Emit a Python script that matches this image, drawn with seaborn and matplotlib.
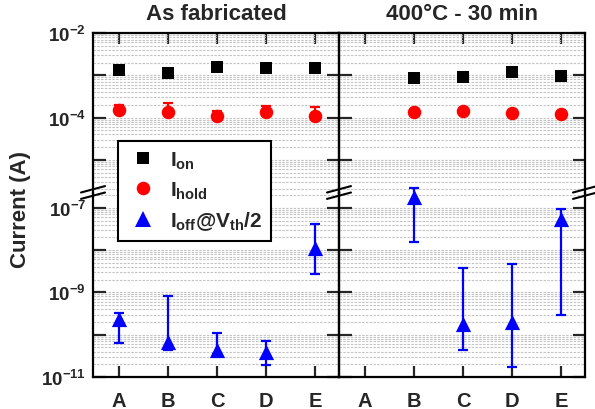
import numpy as np
import pandas as pd
import matplotlib
matplotlib.use('Agg')
import matplotlib.pyplot as plt
import seaborn as sns
from matplotlib.ticker import LogLocator, FixedLocator, FixedFormatter, NullFormatter
from matplotlib.lines import Line2D

nan = np.nan
categories = ['A', 'B', 'C', 'D', 'E']
panel_titles = ['As fabricated', '400°C - 30 min']
series_labels = [r'$I_{on}$', r'$I_{hold}$', r'$I_{off}@V_{th}/2$']

# As fabricated
fab_on = [1.34e-3, 1.15e-3, 1.55e-3, 1.50e-3, 1.48e-3]
fab_on_lo = [1.26e-3, 1.08e-3, 1.46e-3, 1.41e-3, 1.39e-3]
fab_on_hi = [1.42e-3, 1.22e-3, 1.64e-3, 1.58e-3, 1.56e-3]
fab_hold = [1.52e-4, 1.34e-4, 1.08e-4, 1.34e-4, 1.11e-4]
fab_hold_lo = [1.35e-4, 1.15e-4, 0.95e-4, 1.18e-4, 0.98e-4]
fab_hold_hi = [2.0e-4, 2.2e-4, 1.4e-4, 1.92e-4, 1.82e-4]
fab_off = [2.34e-10, 6.8e-11, 4.4e-11, 3.8e-11, 1.15e-8]
fab_off_lo = [6.5e-11, 4.3e-11, 3.5e-11, 1.95e-11, 2.77e-9]
fab_off_hi = [3.2e-10, 8.4e-10, 1.07e-10, 7.1e-11, 4.1e-8]

# 400 C - 30 min (A not measured)
ann_on = [nan, 8.67e-4, 9.3e-4, 1.18e-3, 9.5e-4]
ann_on_lo = [nan, 8.1e-4, 8.8e-4, 1.12e-3, 9.0e-4]
ann_on_hi = [nan, 1.02e-3, 1.0e-3, 1.28e-3, 1.06e-3]
ann_hold = [nan, 1.34e-4, 1.42e-4, 1.31e-4, 1.20e-4]
ann_hold_lo = [nan, 1.25e-4, 1.33e-4, 1.22e-4, 1.12e-4]
ann_hold_hi = [nan, 1.44e-4, 1.52e-4, 1.40e-4, 1.29e-4]
ann_off = [nan, 1.76e-7, 1.75e-10, 2.03e-10, 5.3e-8]
ann_off_lo = [nan, 1.58e-8, 4.3e-11, 1.75e-11, 3.0e-10]
ann_off_hi = [nan, 2.95e-7, 3.7e-9, 4.8e-9, 9.3e-8]

sns.set_style('white')
plt.rcParams['font.family'] = ['Liberation Sans', 'DejaVu Sans']
plt.rcParams['font.weight'] = 'bold'
plt.rcParams['mathtext.fontset'] = 'custom'
plt.rcParams['mathtext.rm'] = 'Liberation Sans:bold'
plt.rcParams['mathtext.it'] = 'Liberation Sans:bold'
plt.rcParams['mathtext.bf'] = 'Liberation Sans:bold'
plt.rcParams['mathtext.sf'] = 'Liberation Sans:bold'

W, H = 595, 410
fig = plt.figure(figsize=(W / 100, H / 100), dpi=100)

def fx(px):
    return px / W

def fy(py):
    return 1 - py / H

x_edges = [(93, 339), (339, 585)]
y_top, y_break, y_bot = 34, 193.5, 378
dec = 42.3
top_lim = (10 ** (-2 - (y_break - y_top) / dec), 1e-2)
bot_lim = (1e-11, 10 ** (-11 + (y_bot - y_break) / dec))
xlim = (-0.53, 4.49)
xpos = np.arange(len(categories))

data = [
    [(fab_on, fab_on_lo, fab_on_hi), (fab_hold, fab_hold_lo, fab_hold_hi), (fab_off, fab_off_lo, fab_off_hi)],
    [(ann_on, ann_on_lo, ann_on_hi), (ann_hold, ann_hold_lo, ann_hold_hi), (ann_off, ann_off_lo, ann_off_hi)],
]
styles = [('s', 'black', 81), ('o', 'red', 95), ('^', 'blue', 120)]

grid_kw = dict(color='#c4c4c4', linestyle=(0, (2.2, 1.2)), linewidth=0.8)
FS = 16

for p, (x0, x1) in enumerate(x_edges):
    ax_t = fig.add_axes([fx(x0), fy(y_break), fx(x1) - fx(x0), fy(y_top) - fy(y_break)])
    ax_b = fig.add_axes([fx(x0), fy(y_bot), fx(x1) - fx(x0), fy(y_break) - fy(y_bot)])
    for ax, lim in ((ax_t, top_lim), (ax_b, bot_lim)):
        ax.set_yscale('log')
        ax.set_ylim(*lim)
        ax.set_xlim(*xlim)
        ax.set_axisbelow(True)
        ax.yaxis.set_minor_locator(LogLocator(base=10, subs=np.arange(2, 10), numticks=50))
        ax.yaxis.set_minor_formatter(NullFormatter())
        ax.grid(True, which='both', axis='y', **grid_kw)
        ax.grid(False, axis='x')
        for s in ax.spines.values():
            s.set_linewidth(1.6)
            s.set_color('black')
        ax.tick_params(axis='y', which='major', direction='in', length=9, width=1.6,
                       left=True, right=True, labelsize=13.5, pad=5)
        ax.tick_params(axis='y', which='minor', length=0)
        ax.tick_params(axis='x', which='major', direction='in', length=8, width=1.6)
        ax.set_xticks(xpos)
        ax.patch.set_alpha(0)

    ax_t.spines['bottom'].set_visible(False)
    ax_b.spines['top'].set_visible(False)
    ax_t.tick_params(axis='x', bottom=False, top=True, labelbottom=False, labeltop=False)
    ax_b.tick_params(axis='x', bottom=True, top=False, labelbottom=True, labelsize=14.5, pad=10)
    ax_b.set_xticklabels(categories)

    top_major = [1e-2, 1e-3, 1e-4, 1e-5]
    bot_major = [1e-7, 1e-8, 1e-9, 1e-10, 1e-11]
    ax_t.yaxis.set_major_locator(FixedLocator(top_major))
    ax_b.yaxis.set_major_locator(FixedLocator(bot_major))
    if p == 0:
        ax_t.yaxis.set_major_formatter(FixedFormatter([r'$10^{-2}$', '', r'$10^{-4}$', '']))
        ax_b.yaxis.set_major_formatter(FixedFormatter([r'$10^{-7}$', '', r'$10^{-9}$', '', r'$10^{-11}$']))
    else:
        ax_t.yaxis.set_major_formatter(NullFormatter())
        ax_b.yaxis.set_major_formatter(NullFormatter())

    for k, ((v, lo, hi), (mk, col, sz)) in enumerate(zip(data[p], styles)):
        v = np.array(v); lo = np.array(lo); hi = np.array(hi)
        ax = ax_t if k < 2 else ax_b
        ok = ~np.isnan(v)
        ax.errorbar(xpos[ok], v[ok], yerr=[v[ok] - lo[ok], hi[ok] - v[ok]], fmt='none',
                    ecolor=col, elinewidth=1.6, capsize=3.8, capthick=1.6, clip_on=False, zorder=3)
        df = pd.DataFrame({'x': xpos[ok], 'y': v[ok]})
        sns.scatterplot(data=df, x='x', y='y', marker=mk, s=sz, color=col, linewidth=0,
                        ax=ax, clip_on=False, zorder=4, legend=False)
        ax.set_xlabel('')
        ax.set_ylabel('')

    fig.text(fx((x0 + x1) / 2), fy(15), panel_titles[p], ha='center', va='center',
             fontsize=FS, fontweight='bold')

# axis break marks
for xb in (93, 339, 585):
    for dy in (-3.2, 3.2):
        fig.add_artist(Line2D([fx(xb - 12), fx(xb + 12)],
                              [fy(y_break + dy + 3.2), fy(y_break + dy - 3.2)],
                              color='black', lw=1.5, transform=fig.transFigure))

fig.text(fx(21), fy(210), 'Current (A)', rotation=90, ha='center', va='center',
         fontsize=FS, fontweight='bold')

handles = [Line2D([], [], marker=m, color=c, ls='none', markersize=np.sqrt(s), markeredgewidth=0)
           for m, c, s in styles]
leg = fig.legend(handles, series_labels, loc='upper left', bbox_to_anchor=(fx(118), fy(142)),
                 frameon=True, fancybox=False, edgecolor='black', framealpha=1, fontsize=15,
                 borderpad=0.4, labelspacing=0.42, handletextpad=0.5, handlelength=1.6,
                 borderaxespad=0)
leg.get_frame().set_linewidth(1.5)

fig.savefig('out.png', dpi=100)
